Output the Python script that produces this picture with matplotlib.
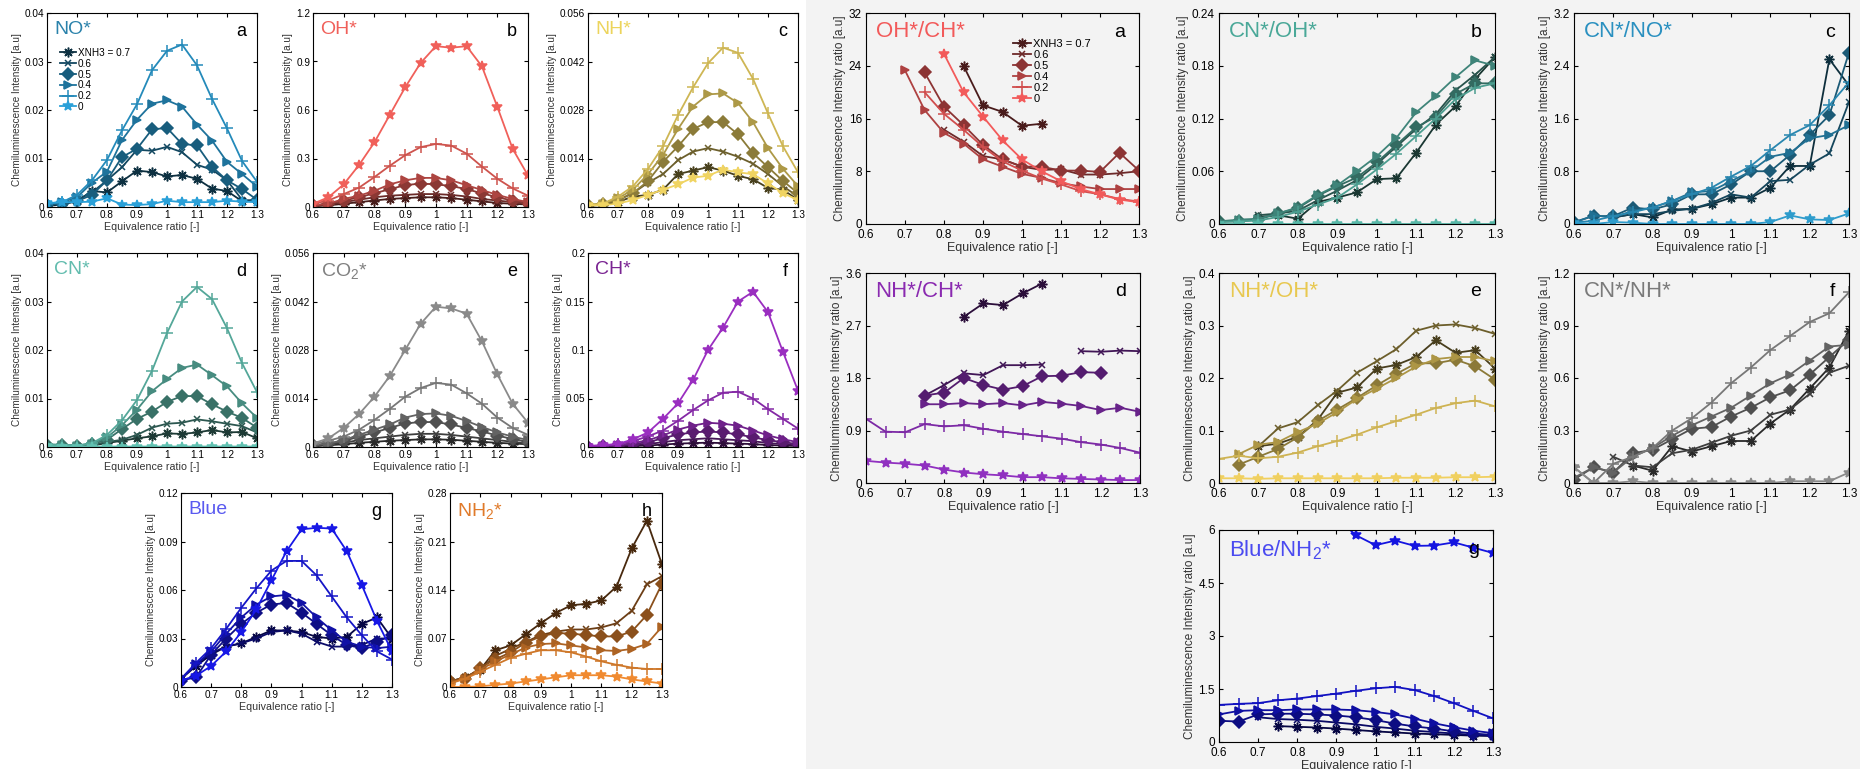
import numpy as np
import matplotlib
matplotlib.use("Agg")
import matplotlib.pyplot as plt
from matplotlib.patches import Rectangle
from matplotlib.ticker import FuncFormatter

plt.rcParams['font.family'] = ['Liberation Sans', 'DejaVu Sans']
plt.rcParams['mathtext.default'] = 'regular'

nan = np.nan
phi = [0.6, 0.65, 0.7, 0.75, 0.8, 0.85, 0.9, 0.95, 1.0, 1.05, 1.1, 1.15, 1.2, 1.25, 1.3]
xnh3 = ['XNH3 = 0.7', '0.6', '0.5', '0.4', '0.2', '0']

# ---- left group: intensities, series order 0.7, 0.6, 0.5, 0.4, 0.2, 0
no_star = [
    [0.0002, 0.0005, 0.0012, 0.0033, 0.003, 0.0053, 0.0075, 0.0072, 0.0063, 0.0066, 0.0058, 0.0038, 0.0033, 0.0012, 0.0015],
    [0.0005, 0.0007, 0.0015, 0.003, 0.0055, 0.0082, 0.0118, 0.0116, 0.0124, 0.0113, 0.0087, 0.0077, 0.0055, 0.0015, 0.0012],
    [0.0005, 0.0007, 0.0012, 0.0025, 0.0055, 0.0103, 0.012, 0.016, 0.0163, 0.013, 0.0127, 0.0083, 0.0055, 0.0037, 0.0015],
    [0.0007, 0.001, 0.002, 0.005, 0.0073, 0.0138, 0.018, 0.0213, 0.022, 0.0207, 0.017, 0.0137, 0.0093, 0.0068, 0.0042],
    [0.0007, 0.001, 0.0025, 0.0055, 0.0097, 0.0158, 0.0212, 0.0282, 0.0322, 0.0335, 0.0292, 0.0223, 0.0162, 0.0095, 0.0052],
    [0.0008, 0.001, 0.001, 0.0011, 0.0018, 0.0005, 0.0004, 0.0006, 0.0013, 0.001, 0.001, 0.001, 0.0013, 0.0011, 0.001],
]
oh_star = [
    [0.005, 0.01, 0.02, 0.03, 0.04, 0.05, 0.055, 0.06, 0.06, 0.055, 0.045, 0.035, 0.025, 0.02, 0.015],
    [0.005, 0.015, 0.03, 0.045, 0.06, 0.07, 0.075, 0.08, 0.08, 0.075, 0.065, 0.05, 0.04, 0.03, 0.02],
    [0.01, 0.02, 0.04, 0.06, 0.085, 0.11, 0.135, 0.145, 0.14, 0.13, 0.11, 0.085, 0.06, 0.04, 0.025],
    [0.01, 0.02, 0.05, 0.07, 0.1, 0.14, 0.165, 0.18, 0.18, 0.165, 0.135, 0.105, 0.075, 0.05, 0.03],
    [0.02, 0.04, 0.08, 0.12, 0.185, 0.255, 0.32, 0.37, 0.39, 0.38, 0.33, 0.25, 0.175, 0.115, 0.07],
    [0.02, 0.06, 0.14, 0.26, 0.40, 0.57, 0.74, 0.89, 0.995, 0.985, 0.995, 0.87, 0.62, 0.36, 0.195],
]
nh_star = [
    [0.0003, 0.0006, 0.0015, 0.003, 0.0035, 0.005, 0.0095, 0.0105, 0.0115, 0.0105, 0.009, 0.008, 0.0055, 0.005, 0.002],
    [0.0003, 0.0008, 0.002, 0.004, 0.007, 0.0095, 0.0135, 0.016, 0.017, 0.016, 0.0145, 0.0125, 0.0095, 0.006, 0.003],
    [0.0005, 0.001, 0.002, 0.004, 0.0075, 0.013, 0.0175, 0.0225, 0.0245, 0.0245, 0.021, 0.0155, 0.0115, 0.0075, 0.004],
    [0.0005, 0.001, 0.0025, 0.005, 0.0095, 0.015, 0.0225, 0.029, 0.0325, 0.0328, 0.030, 0.0245, 0.017, 0.011, 0.006],
    [0.0005, 0.001, 0.003, 0.006, 0.011, 0.0175, 0.0265, 0.0345, 0.0415, 0.046, 0.0445, 0.037, 0.027, 0.0175, 0.01],
    [0.0005, 0.0005, 0.001, 0.002, 0.0035, 0.005, 0.0065, 0.0085, 0.009, 0.0108, 0.01, 0.0095, 0.0068, 0.004, 0.002],
]
cn_star = [
    [0.0002, 0.0002, 0.0002, 0.0003, 0.0008, 0.0013, 0.0018, 0.0022, 0.0028, 0.0027, 0.003, 0.0035, 0.003, 0.0031, 0.0018],
    [0.0003, 0.0003, 0.0003, 0.0005, 0.001, 0.0015, 0.0025, 0.004, 0.0048, 0.005, 0.0057, 0.0053, 0.0048, 0.0043, 0.003],
    [0.0005, 0.0004, 0.0003, 0.0006, 0.0015, 0.0037, 0.0058, 0.0073, 0.0093, 0.0105, 0.0105, 0.0088, 0.0073, 0.006, 0.004],
    [0.0005, 0.0004, 0.0003, 0.0007, 0.002, 0.0045, 0.0077, 0.0115, 0.014, 0.0163, 0.017, 0.0148, 0.0125, 0.009, 0.006],
    [0.0005, 0.0005, 0.0003, 0.0008, 0.0025, 0.0055, 0.0097, 0.0157, 0.0235, 0.030, 0.033, 0.0305, 0.0245, 0.0173, 0.0113],
    [0.0002, 0.0001, 0.0001, 0.0001, 0.0001, 0.0001, 0.0001, 0.0001, 0.0001, 0.0001, 0.0001, 0.0001, 0.0001, 0.0001, 0.0001],
]
co2_star = [
    [0.0002, 0.0005, 0.0008, 0.0012, 0.0015, 0.0018, 0.002, 0.0022, 0.0022, 0.0021, 0.0018, 0.0015, 0.0012, 0.001, 0.0008],
    [0.0003, 0.0007, 0.0012, 0.002, 0.0025, 0.003, 0.0035, 0.0038, 0.0038, 0.0035, 0.003, 0.0025, 0.002, 0.0015, 0.001],
    [0.0005, 0.001, 0.0017, 0.003, 0.0042, 0.0055, 0.0068, 0.0072, 0.0072, 0.0065, 0.0055, 0.0045, 0.0033, 0.0023, 0.0015],
    [0.0005, 0.001, 0.002, 0.0035, 0.005, 0.0065, 0.0085, 0.0095, 0.0097, 0.009, 0.0075, 0.0058, 0.0042, 0.003, 0.002],
    [0.0008, 0.0018, 0.003, 0.005, 0.0078, 0.011, 0.0145, 0.017, 0.0185, 0.018, 0.0155, 0.0125, 0.0085, 0.0055, 0.0035],
    [0.001, 0.0025, 0.0055, 0.0095, 0.0145, 0.0205, 0.028, 0.0355, 0.0405, 0.040, 0.0385, 0.0305, 0.021, 0.0125, 0.007],
]
ch_star = [
    [0.0002, 0.0004, 0.0007, 0.001, 0.0015, 0.0025, 0.0035, 0.004, 0.0045, 0.004, 0.0035, 0.003, 0.002, 0.0015, 0.001],
    [0.0003, 0.0006, 0.001, 0.002, 0.003, 0.005, 0.007, 0.008, 0.009, 0.008, 0.007, 0.006, 0.004, 0.003, 0.002],
    [0.0005, 0.001, 0.0015, 0.003, 0.005, 0.009, 0.013, 0.015, 0.016, 0.015, 0.013, 0.01, 0.007, 0.005, 0.003],
    [0.0005, 0.001, 0.002, 0.004, 0.007, 0.012, 0.018, 0.022, 0.025, 0.024, 0.022, 0.017, 0.012, 0.008, 0.005],
    [0.001, 0.0015, 0.003, 0.006, 0.011, 0.017, 0.027, 0.038, 0.048, 0.056, 0.057, 0.05, 0.039, 0.029, 0.019],
    [0.001, 0.002, 0.003, 0.008, 0.015, 0.029, 0.045, 0.069, 0.1, 0.123, 0.15, 0.16, 0.139, 0.098, 0.058],
]
blue = [
    [0.005, 0.013, 0.02, 0.025, 0.027, 0.031, 0.035, 0.035, 0.034, 0.031, 0.03, 0.031, 0.039, 0.043, 0.03],
    [0.005, 0.014, 0.021, 0.025, 0.027, 0.03, 0.034, 0.035, 0.033, 0.028, 0.025, 0.025, 0.026, 0.03, 0.03],
    [0.004, 0.006, 0.02, 0.03, 0.039, 0.046, 0.051, 0.052, 0.046, 0.039, 0.032, 0.026, 0.024, 0.028, 0.032],
    [0.005, 0.014, 0.022, 0.033, 0.043, 0.051, 0.056, 0.057, 0.052, 0.043, 0.035, 0.028, 0.025, 0.024, 0.025],
    [0.005, 0.015, 0.024, 0.036, 0.049, 0.061, 0.072, 0.078, 0.078, 0.069, 0.056, 0.043, 0.032, 0.022, 0.017],
    [0.004, 0.007, 0.013, 0.022, 0.034, 0.048, 0.066, 0.084, 0.0975, 0.0985, 0.098, 0.084, 0.063, 0.041, 0.022],
]
nh2_star = [
    [0.008, 0.014, 0.025, 0.053, 0.06, 0.076, 0.092, 0.107, 0.118, 0.12, 0.125, 0.145, 0.2, 0.24, 0.177],
    [0.008, 0.014, 0.025, 0.045, 0.055, 0.065, 0.075, 0.08, 0.083, 0.083, 0.086, 0.092, 0.11, 0.148, 0.16],
    [0.008, 0.012, 0.028, 0.04, 0.05, 0.064, 0.073, 0.078, 0.077, 0.075, 0.073, 0.073, 0.08, 0.104, 0.149],
    [0.007, 0.012, 0.025, 0.037, 0.047, 0.057, 0.062, 0.063, 0.06, 0.057, 0.053, 0.052, 0.055, 0.062, 0.087],
    [0.005, 0.012, 0.022, 0.032, 0.042, 0.048, 0.053, 0.053, 0.05, 0.044, 0.037, 0.032, 0.028, 0.026, 0.026],
    [0.0, 0.0, 0.001, 0.003, 0.005, 0.008, 0.011, 0.014, 0.017, 0.017, 0.017, 0.015, 0.011, 0.008, 0.005],
]

# ---- right group: intensity ratios
oh_ch = [
    [nan, nan, nan, nan, nan, 24.0, 18.0, 17.0, 14.9, 15.2, nan, nan, nan, nan, nan],
    [nan, nan, nan, nan, 14.3, 12.5, 10.3, 9.8, 8.7, 8.2, 8.3, 7.5, 7.5, 7.7, 8.0],
    [nan, nan, nan, 23.0, 17.8, 15.0, 12.0, 9.8, 8.7, 8.7, 8.1, 8.1, 7.9, 10.8, 8.1],
    [nan, nan, 23.3, 17.3, 13.8, 12.2, 9.8, 8.7, 7.6, 7.0, 6.2, 5.7, 5.3, 5.3, 5.3],
    [nan, nan, nan, 20.0, 16.7, 14.3, 11.7, 9.5, 8.1, 6.9, 6.0, 5.0, 4.5, 3.8, 3.4],
    [nan, nan, nan, nan, 25.8, 20.0, 16.3, 12.7, 9.8, 8.0, 6.5, 5.3, 4.5, 3.7, 3.3],
]
cn_oh = [
    [nan, nan, 0.008, 0.01, 0.006, 0.025, 0.03, 0.036, 0.051, 0.052, 0.081, 0.113, 0.134, 0.165, 0.19],
    [nan, nan, 0.01, 0.012, 0.015, 0.027, 0.038, 0.05, 0.068, 0.088, 0.108, 0.125, 0.152, 0.17, 0.19],
    [0.003, 0.003, 0.005, 0.012, 0.018, 0.032, 0.043, 0.053, 0.07, 0.09, 0.11, 0.122, 0.148, 0.16, 0.16],
    [0.003, 0.005, 0.006, 0.012, 0.019, 0.033, 0.044, 0.06, 0.077, 0.098, 0.127, 0.146, 0.167, 0.186, 0.18],
    [0.002, 0.003, 0.004, 0.008, 0.014, 0.022, 0.03, 0.045, 0.062, 0.08, 0.1, 0.12, 0.142, 0.155, 0.16],
    [0.0005, 0.0005, 0.0005, 0.0005, 0.0005, 0.0005, 0.0005, 0.0005, 0.0005, 0.0005, 0.0005, 0.0005, 0.0005, 0.0005, 0.0005],
]
cn_no = [
    [nan, nan, 0.1, 0.15, 0.1, 0.22, 0.23, 0.3, 0.4, 0.4, 0.55, 0.88, 0.88, 2.5, 2.1],
    [nan, nan, 0.1, 0.15, 0.15, 0.2, 0.23, 0.32, 0.45, 0.4, 0.65, 0.67, 0.9, 1.07, 1.85],
    [0.03, 0.12, 0.12, 0.25, 0.22, 0.3, 0.45, 0.45, 0.6, 0.8, 0.8, 1.05, 1.35, 1.65, 2.6],
    [0.02, 0.13, 0.1, 0.2, 0.25, 0.35, 0.48, 0.5, 0.65, 0.8, 1.02, 1.08, 1.3, 1.35, 1.5],
    [0.02, 0.05, 0.12, 0.18, 0.25, 0.35, 0.45, 0.55, 0.72, 0.88, 1.12, 1.35, 1.5, 1.8, 2.15],
    [0.02, 0.0, 0.03, 0.02, 0.0, 0.0, 0.0, 0.0, 0.0, 0.0, 0.03, 0.13, 0.07, 0.06, 0.16],
]
nh_ch = [
    [nan, nan, nan, nan, nan, 2.85, 3.08, 3.05, 3.25, 3.42, nan, nan, nan, nan, nan],
    [nan, nan, nan, 1.5, 1.68, 1.88, 1.85, 2.02, 2.02, 2.03, nan, 2.26, 2.25, 2.27, 2.26],
    [nan, nan, nan, 1.5, 1.55, 1.8, 1.68, 1.6, 1.66, 1.83, 1.84, 1.9, 1.89, nan, nan],
    [nan, nan, nan, 1.35, 1.35, 1.37, 1.35, 1.37, 1.33, 1.39, 1.36, 1.32, 1.25, 1.29, 1.22],
    [1.1, 0.88, 0.87, 1.01, 0.97, 0.99, 0.93, 0.88, 0.84, 0.8, 0.76, 0.7, 0.66, 0.6, 0.52],
    [0.38, 0.35, 0.33, 0.3, 0.23, 0.18, 0.15, 0.13, 0.1, 0.1, 0.08, 0.07, 0.06, 0.05, 0.05],
]
nh_oh = [
    [nan, nan, 0.07, 0.075, 0.088, 0.12, 0.172, 0.182, 0.218, 0.225, 0.24, 0.272, 0.248, 0.253, 0.218],
    [nan, nan, 0.07, 0.104, 0.116, 0.148, 0.176, 0.21, 0.232, 0.255, 0.29, 0.3, 0.302, 0.295, 0.284],
    [nan, 0.035, 0.05, 0.065, 0.087, 0.118, 0.14, 0.162, 0.186, 0.208, 0.228, 0.228, 0.235, 0.222, 0.197],
    [nan, 0.055, 0.073, 0.078, 0.097, 0.113, 0.135, 0.16, 0.18, 0.2, 0.222, 0.236, 0.24, 0.24, 0.232],
    [0.046, 0.052, 0.047, 0.05, 0.058, 0.07, 0.08, 0.092, 0.106, 0.118, 0.13, 0.143, 0.152, 0.157, 0.146],
    [0.009, 0.009, 0.008, 0.009, 0.009, 0.009, 0.009, 0.009, 0.009, 0.01, 0.01, 0.01, 0.011, 0.011, 0.012],
]
cn_nh = [
    [nan, nan, nan, 0.1, 0.07, 0.21, 0.18, 0.21, 0.24, 0.24, 0.34, 0.42, 0.54, 0.66, 0.87],
    [nan, nan, 0.15, 0.1, 0.09, 0.17, 0.19, 0.23, 0.27, 0.3, 0.39, 0.42, 0.51, 0.63, 0.67],
    [0.02, 0.09, 0.06, 0.17, 0.19, 0.25, 0.31, 0.32, 0.38, 0.43, 0.49, 0.53, 0.62, 0.72, 0.82],
    [0.03, 0.09, 0.06, 0.15, 0.2, 0.27, 0.33, 0.38, 0.43, 0.5, 0.57, 0.62, 0.7, 0.78, 0.79],
    [0.09, 0.0, 0.11, 0.15, 0.2, 0.3, 0.37, 0.46, 0.57, 0.66, 0.76, 0.84, 0.92, 0.97, 1.09],
    [0.09, 0.0, 0.0, 0.01, 0.0, 0.0, 0.0, 0.0, 0.0, 0.0, 0.0, 0.01, 0.01, 0.01, 0.06],
]
blue_nh2 = [
    [nan, nan, nan, 0.45, 0.43, 0.41, 0.38, 0.34, 0.3, 0.27, 0.24, 0.22, 0.2, 0.18, 0.17],
    [nan, nan, 0.7, 0.65, 0.63, 0.6, 0.55, 0.5, 0.43, 0.38, 0.32, 0.28, 0.24, 0.2, 0.18],
    [0.6, 0.58, 0.78, 0.8, 0.8, 0.78, 0.75, 0.7, 0.62, 0.52, 0.44, 0.38, 0.3, 0.24, 0.2],
    [0.78, 0.88, 0.9, 0.9, 0.92, 0.92, 0.92, 0.9, 0.85, 0.78, 0.66, 0.53, 0.42, 0.32, 0.25],
    [1.05, 1.08, 1.1, 1.18, 1.23, 1.3, 1.37, 1.45, 1.52, 1.56, 1.47, 1.3, 1.1, 0.88, 0.67],
    [nan, nan, nan, nan, nan, 7.0, 6.35, 5.85, 5.57, 5.7, 5.55, 5.56, 5.65, 5.5, 5.35],
]

markers = [(8, 2, 0), 'x', 'D', '>', '+', '*']
msizes = [7, 5, 6.5, 6, 8, 7]
shade = [0.3, 0.45, 0.58, 0.72, 0.86, 1.0]

W, H = 1860, 769
fig = plt.figure(figsize=(W / 100, H / 100), dpi=100)
fig.patches.append(Rectangle((806 / W, 0), 1 - 806 / W, 1, transform=fig.transFigure,
                             facecolor='#f3f3f3', edgecolor='none', zorder=-10))


def box(x0, y0, x1, y1):
    return fig.add_axes([x0 / W, 1 - y1 / H, (x1 - x0) / W, (y1 - y0) / H])


def panel(ax, data, base, title, tcol, letter, yticks, right, legend=None):
    rgb = np.array(matplotlib.colors.to_rgb(base))
    for k, ys in enumerate(data):
        ax.plot(phi, ys, color=tuple(rgb * shade[k]), marker=markers[k], ms=msizes[k],
                mew=1.1, lw=1.3, label=xnh3[k])
    ax.set_xlim(0.6, 1.3)
    ax.set_ylim(yticks[0], yticks[-1])
    ax.set_xticks([0.6, 0.7, 0.8, 0.9, 1.0, 1.1, 1.2, 1.3])
    ax.set_yticks(yticks)
    fmt = FuncFormatter(lambda v, p: '%g' % round(v, 4))
    ax.xaxis.set_major_formatter(fmt)
    ax.yaxis.set_major_formatter(fmt)
    fs = 8.5 if right else 7.2
    ax.tick_params(direction='in', top=True, right=True, labelsize=fs, length=3)
    ax.tick_params(axis='x', pad=3.5 if right else 2.5)
    ax.tick_params(axis='y', pad=3 if right else 2)
    ax.set_xlabel('Equivalence ratio [-]', fontsize=fs + 0.5, labelpad=1, color='#333333')
    ax.set_ylabel('Chemiluminescence Intensity ratio [a.u]' if right
                  else 'Chemiluminescence Intensity [a.u]', fontsize=fs, labelpad=2, color='#333333')
    ax.text(0.035, 0.96, title, transform=ax.transAxes, color=tcol, va='top', ha='left',
            fontsize=16 if right else 14)
    ax.text(0.95, 0.95, letter, transform=ax.transAxes, color='black', va='top', ha='right',
            fontsize=14 if right else 13)
    for s in ax.spines.values():
        s.set_linewidth(0.8)
    if right:
        ax.set_facecolor('#f3f3f3')
    if legend is not None:
        ax.legend(loc='upper left', bbox_to_anchor=legend, frameon=False,
                  fontsize=8 if right else 7.2, handlelength=1.6, handletextpad=0.2,
                  labelspacing=0.08, borderaxespad=0, borderpad=0)


# left group
panel(box(47, 13, 257, 207), no_star, '#2aa0d8', 'NO*', '#2a82ab', 'a',
      [0, 0.01, 0.02, 0.03, 0.04], False, legend=(0.06, 0.82))
panel(box(313, 13, 528, 207), oh_star, '#f0605a', 'OH*', '#f0605a', 'b',
      [0, 0.3, 0.6, 0.9, 1.2], False)
panel(box(588, 13, 798, 207), nh_star, '#f0d462', 'NH*', '#ecd45c', 'c',
      [0, 0.014, 0.028, 0.042, 0.056], False)
panel(box(47, 253, 257, 447), cn_star, '#62c2b2', 'CN*', '#62bcae', 'd',
      [0, 0.01, 0.02, 0.03, 0.04], False)
panel(box(313, 253, 528, 447), co2_star, '#8a8a8a', 'CO$_2$*', '#808080', 'e',
      [0, 0.014, 0.028, 0.042, 0.056], False)
panel(box(588, 253, 798, 447), ch_star, '#9a2ec0', 'CH*', '#7a2492', 'f',
      [0, 0.05, 0.1, 0.15, 0.2], False)
panel(box(181, 493, 392, 687), blue, '#1818e6', 'Blue', '#5a5af0', 'g',
      [0, 0.03, 0.06, 0.09, 0.12], False)
panel(box(450, 493, 662, 687), nh2_star, '#f08a30', 'NH$_2$*', '#e07a2a', 'h',
      [0, 0.07, 0.14, 0.21, 0.28], False)

# right group
panel(box(866, 13, 1139, 224), oh_ch, '#f25a5a', 'OH*/CH*', '#f25a5a', 'a',
      [0, 8, 16, 24, 32], True, legend=(0.54, 0.875))
panel(box(1219, 13, 1495, 224), cn_oh, '#58b8a8', 'CN*/OH*', '#4aa898', 'b',
      [0, 0.06, 0.12, 0.18, 0.24], True)
panel(box(1574, 13, 1849, 224), cn_no, '#2e9ccc', 'CN*/NO*', '#2a90c0', 'c',
      [0, 0.8, 1.6, 2.4, 3.2], True)
panel(box(866, 273, 1140, 483), nh_ch, '#9030c0', 'NH*/CH*', '#8a2ab0', 'd',
      [0, 0.9, 1.8, 2.7, 3.6], True)
panel(box(1219, 273, 1495, 483), nh_oh, '#f0d060', 'NH*/OH*', '#e8c850', 'e',
      [0, 0.1, 0.2, 0.3, 0.4], True)
panel(box(1574, 273, 1849, 483), cn_nh, '#8a8a8a', 'CN*/NH*', '#7a7a7a', 'f',
      [0, 0.3, 0.6, 0.9, 1.2], True)
panel(box(1219, 530, 1493, 742), blue_nh2, '#1414e0', 'Blue/NH$_2$*', '#4a4af0', 'g',
      [0, 1.5, 3, 4.5, 6], True)

fig.savefig('out.png', dpi=100)
